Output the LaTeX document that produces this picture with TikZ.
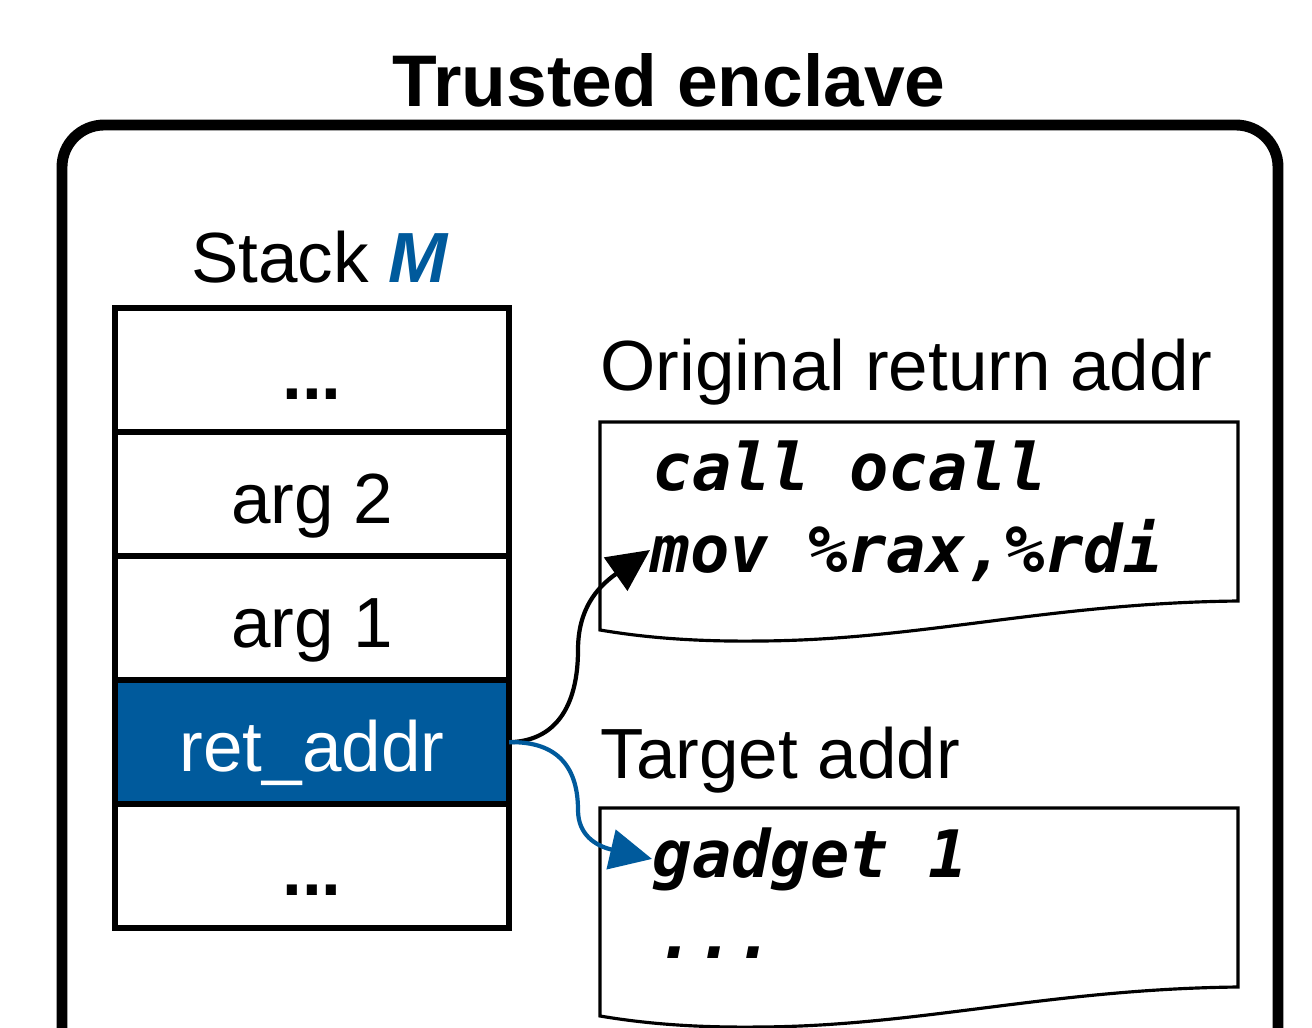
\documentclass[tikz,border=0pt]{standalone}
\usepackage{fontspec}
\setmainfont{Liberation Sans}
\newfontfamily\codefont{DejaVu Sans Mono}[BoldItalicFont={DejaVu Sans Mono Bold Oblique}]
\usetikzlibrary{positioning,arrows.meta}
\definecolor{sgxblue}{RGB}{0,90,156}
\tikzset{
    cell/.style={draw, line width=1.7pt, minimum width=3.94cm, minimum height=1.24cm,
        outer sep=0pt, inner sep=0pt, text height=0.6cm, text depth=0.02cm},
    code/.style={anchor=base west, inner sep=0pt, font=\codefont\bfseries\itshape\fontsize{18.6}{22}\selectfont},
    docline/.style={draw, line width=0.9pt},
    ptr/.style={line width=1.2pt, -{Triangle[length=4.2mm, width=4mm]}}
}
\begin{document}
\begin{tikzpicture}[x=0.01cm, y=-0.01cm, font=\fontsize{20.2}{24}\selectfont]
\useasboundingbox (0,0) rectangle (1312,1027);
\clip (0,0) rectangle (1312,1027);
\draw[line width=3.1pt, rounded corners=0.42cm] (62,125) rectangle (1278,1120);
\node[anchor=base, inner sep=0pt, font=\fontsize{20.8}{25}\selectfont] (title) at (669,106) {\textbf{Trusted enclave}};

% stack
\node[anchor=base, inner sep=0pt] (stacklbl) at (320,282) {Stack \textcolor{sgxblue}{\textbf{\textit{M}}}};
\node[cell] (c1) at (312,370) {\textbf{...}};
\node[cell, below=0pt of c1] (c2) {arg 2};
\node[cell, below=0pt of c2] (c3) {arg 1};
\node[cell, below=0pt of c3, fill=sgxblue, text=white] (ret) {ret\_addr};
\node[cell, below=0pt of ret] (c5) {\textbf{...}};

% code pages
\foreach \y in {422,808}
{
    \draw[docline] (600,\y) -- (1238,\y) -- (1238,\y+179)
        .. controls (1050,\y+181) and (920,\y+218) .. (760,\y+219)
        .. controls (680,\y+220) and (630,\y+213) .. (600,\y+208) -- cycle;
}
\node[anchor=base west, inner sep=0pt] (orig) at (600,390) {Original return addr};
\node[anchor=base west, inner sep=0pt] (tgt) at (600,778) {Target addr};
\node[code] (call) at (652,490) {call ocall};
\node[code] (mov) at (650,572) {mov \%rax,\%rdi};
\node[code] (gadget) at (652,877) {gadget 1};
\node[code] (more) at (656,958) {...};

\draw[ptr] (ret.east) .. controls (560,741) and (578,700) .. (578,650)
    .. controls (578,610) and (596,588) .. (mov.west);
\draw[ptr, sgxblue] (ret.east) .. controls (560,741) and (578,770) .. (578,810)
    .. controls (578,835) and (596,846) .. (gadget.west);
\end{tikzpicture}
\end{document}
